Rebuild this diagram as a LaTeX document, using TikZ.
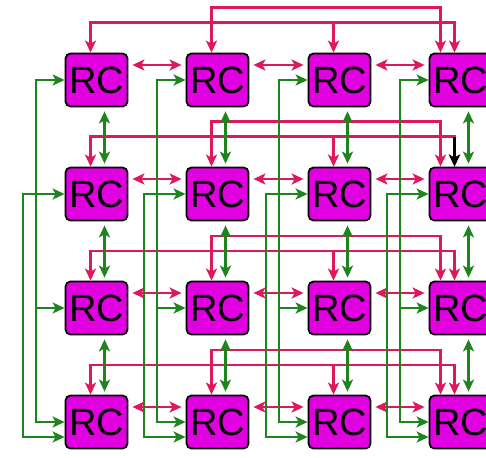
\documentclass[tikz,border=0pt]{standalone}
\usepackage{fontspec}
\setmainfont{Liberation Sans}
\usetikzlibrary{arrows.meta}

\definecolor{rcfill}{RGB}{224,0,224}
\definecolor{linkred}{RGB}{222,24,92}
\definecolor{linkgreen}{RGB}{30,132,30}

\tikzset{
    rc/.style={draw=black, line width=1.8pt, fill=rcfill, rounded corners=5pt,
        minimum width=62pt, minimum height=53pt, inner sep=0pt,
        font=\fontsize{38}{38}\selectfont},
    hop/.style={linkred, line width=2.2pt},
    vhop/.style={linkgreen, line width=2.2pt}
}

\begin{document}
\begin{tikzpicture}[x=1pt, y=-1pt, >={Stealth[length=12pt,width=11pt,inset=3pt]}]
    \useasboundingbox (0,0) rectangle (486,457);
    \clip (0,0) rectangle (486,457);

    \foreach \r/\y in {1/80,2/194,3/308,4/422} {
        \foreach \c/\x in {1/96.5,2/217.5,3/339.5,4/460.5} {
            \node[rc] (rc\r\c) at (\x,\y) {RC};
        }
    }

    % row links
    \foreach \r in {1,...,4} {
        \draw[hop,<->] ([xshift=-6pt]rc\r2.north) -- ++(0,-45) -| ([xshift=-20pt]rc\r4.north);
        \draw[hop,<->] ([xshift=-6pt]rc\r1.north) -- ++(0,-30) -| ([xshift=-6pt]rc\r4.north);
        \draw[hop,<-] ([xshift=-6pt]rc\r3.north) -- ++(0,-30);
        \foreach \c/\n in {1/2,2/3,3/4}
            \draw[hop,<->,shorten <=4pt,shorten >=4pt] ([yshift=15pt]rc\r\c.east) -- ([yshift=15pt]rc\r\n.west);
    }
    \draw[black,line width=2.2pt,<-] ([xshift=-6pt]rc24.north) -- ++(0,-30);

    % column links
    \foreach \c in {1,...,4} {
        \draw[vhop,<->] (rc2\c.west) -- ++(-42,0) |- ([yshift=-15pt]rc4\c.west);
        \draw[vhop,<->] (rc1\c.west) -- ++(-29,0) |- (rc4\c.west);
        \draw[vhop,<-] (rc3\c.west) -- ++(-29,0);
        \foreach \r/\n in {1/2,2/3,3/4}
            \draw[vhop,<->,shorten <=4pt,shorten >=3pt] ([xshift=8pt]rc\r\c.south) -- ([xshift=8pt]rc\n\c.north);
    }

\end{tikzpicture}
\end{document}
